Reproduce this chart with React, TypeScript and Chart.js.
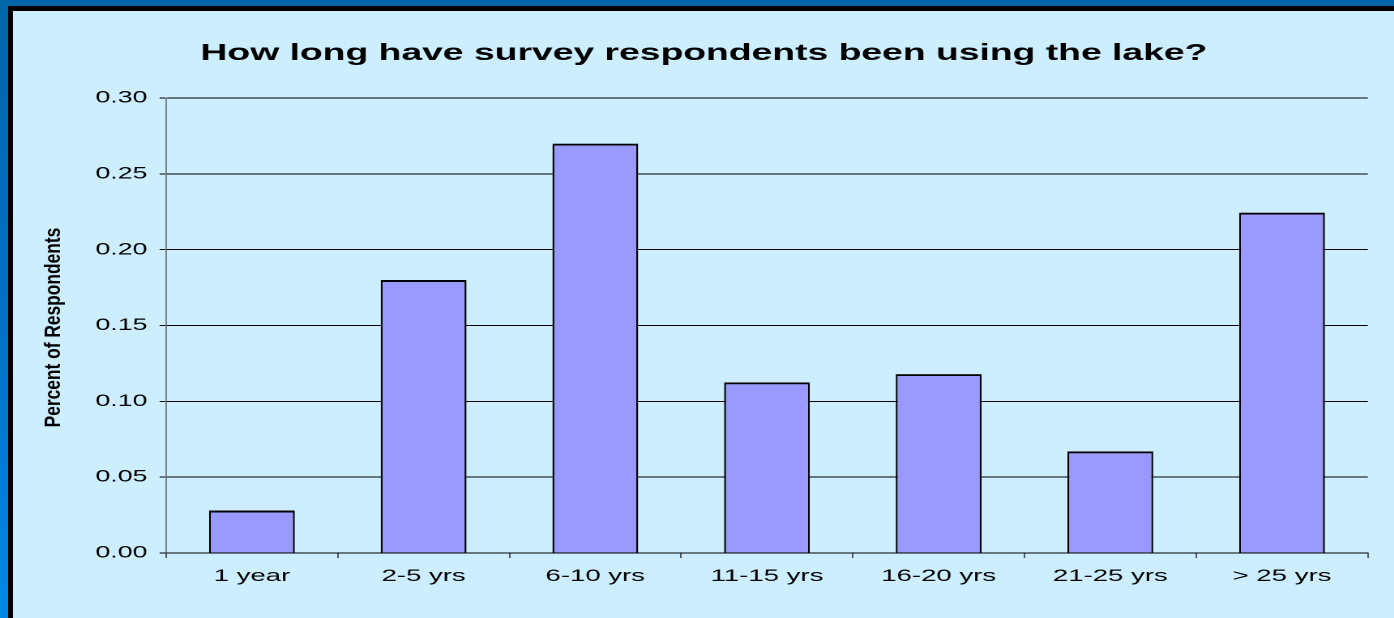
import React, { useEffect, useRef } from "react";
import { Chart, registerables } from "chart.js";

Chart.register(...registerables);

const categories = ["1 year", "2-5 yrs", "6-10 yrs", "11-15 yrs", "16-20 yrs", "21-25 yrs", "> 25 yrs"];
const respondentShare = [0.028, 0.18, 0.27, 0.1125, 0.118, 0.067, 0.2245];
const yMin = 0;
const yMax = 0.3;
const yStep = 0.05;
const chartTitle = "How long have survey respondents been using the lake?";
const yAxisTitle = "Percent of Respondents";

const K = 1.62; // horizontal stretch of the original rendering
const PANEL_W = 1381;
const PANEL_H = 607;
const FONT = "'Liberation Sans', Arial, sans-serif";

const yTitlePlugin = {
  id: "yTitleStretched",
  afterDraw(chart: any) {
    const { ctx, chartArea } = chart;
    ctx.save();
    const cx = 41 / K;
    const cy = (chartArea.top + chartArea.bottom) / 2 + 2;
    ctx.translate(cx, cy);
    ctx.rotate(-Math.PI / 2);
    ctx.scale(1.24, 1);
    ctx.font = `bold 14px ${FONT}`;
    ctx.fillStyle = "#000";
    ctx.textAlign = "center";
    ctx.textBaseline = "middle";
    ctx.fillText(yAxisTitle, 0, 0);
    ctx.restore();
  },
};

export default function App() {
  const canvasRef = useRef<HTMLCanvasElement | null>(null);

  useEffect(() => {
    const canvas = canvasRef.current;
    if (!canvas) return;
    const chart = new Chart(canvas, {
      type: "bar",
      data: {
        labels: categories,
        datasets: [
          {
            data: respondentShare,
            backgroundColor: "#9999ff",
            borderColor: "#000000",
            borderWidth: { top: 2, left: 2 / K, right: 2 / K, bottom: 0 },
            borderSkipped: false,
            barPercentage: 0.5,
            categoryPercentage: 1.0,
            yAxisID: "y",
          },
        ],
      },
      options: {
        animation: false,
        responsive: true,
        maintainAspectRatio: false,
        devicePixelRatio: 2,
        layout: { padding: { left: 0, right: 0, top: 0, bottom: 0 } },
        plugins: {
          legend: { display: false },
          tooltip: { enabled: false },
          title: {
            display: true,
            text: chartTitle,
            color: "#000",
            font: { family: FONT, size: 23, weight: "bold" },
            padding: { top: 29, bottom: 30.5 },
          },
        },
        scales: {
          x: {
            offset: true,
            grid: {
              offset: true,
              drawOnChartArea: false,
              drawTicks: true,
              tickLength: 5,
              tickColor: "#000",
              lineWidth: 1 / K,
              color: "#000",
            },
            border: { display: true, color: "#000", width: 1 },
            ticks: {
              color: "#000",
              font: { family: FONT, size: 17 },
              padding: 8,
              maxRotation: 0,
              autoSkip: false,
            },
            afterFit: (scale: any) => {
              scale.height = 65;
            },
          },
          y: {
            min: yMin,
            max: yMax,
            grid: {
              color: "#000",
              lineWidth: 1,
              drawTicks: true,
              tickLength: 4,
              tickColor: "#000",
            },
            border: { display: true, color: "#444", width: 1 / K },
            ticks: {
              stepSize: yStep,
              color: "#000",
              font: { family: FONT, size: 16.5 },
              padding: 7.5,
              callback: (v: any) => Number(v).toFixed(2),
            },
            title: { display: false },
            afterFit: (scale: any) => {
              scale.width = 153 / K;
            },
          },
          yRight: {
            position: "right",
            display: true,
            grid: { display: false, drawTicks: false },
            border: { display: false },
            ticks: { display: false },
            afterFit: (scale: any) => {
              scale.width = 27 / K;
            },
          },
        },
      },
      plugins: [yTitlePlugin],
    });
    return () => chart.destroy();
  }, []);

  return (
    <div
      style={{
        position: "fixed",
        left: 0,
        top: 0,
        width: 1394,
        height: 618,
        overflow: "hidden",
        background: "linear-gradient(180deg, #0066aa 0%, #0070c4 50%, #0088e6 100%)",
      }}
    >
      <div
        style={{
          position: "absolute",
          left: 8,
          top: 6,
          width: PANEL_W + 20,
          height: PANEL_H + 20,
          border: "5px solid #000",
          background: "#cceeff",
        }}
      >
        <div
          style={{
            position: "absolute",
            left: 0,
            top: 0,
            width: PANEL_W / K,
            height: PANEL_H,
            transform: `scaleX(${K})`,
            transformOrigin: "0 0",
          }}
        >
          <canvas ref={canvasRef} />
        </div>
      </div>
    </div>
  );
}
